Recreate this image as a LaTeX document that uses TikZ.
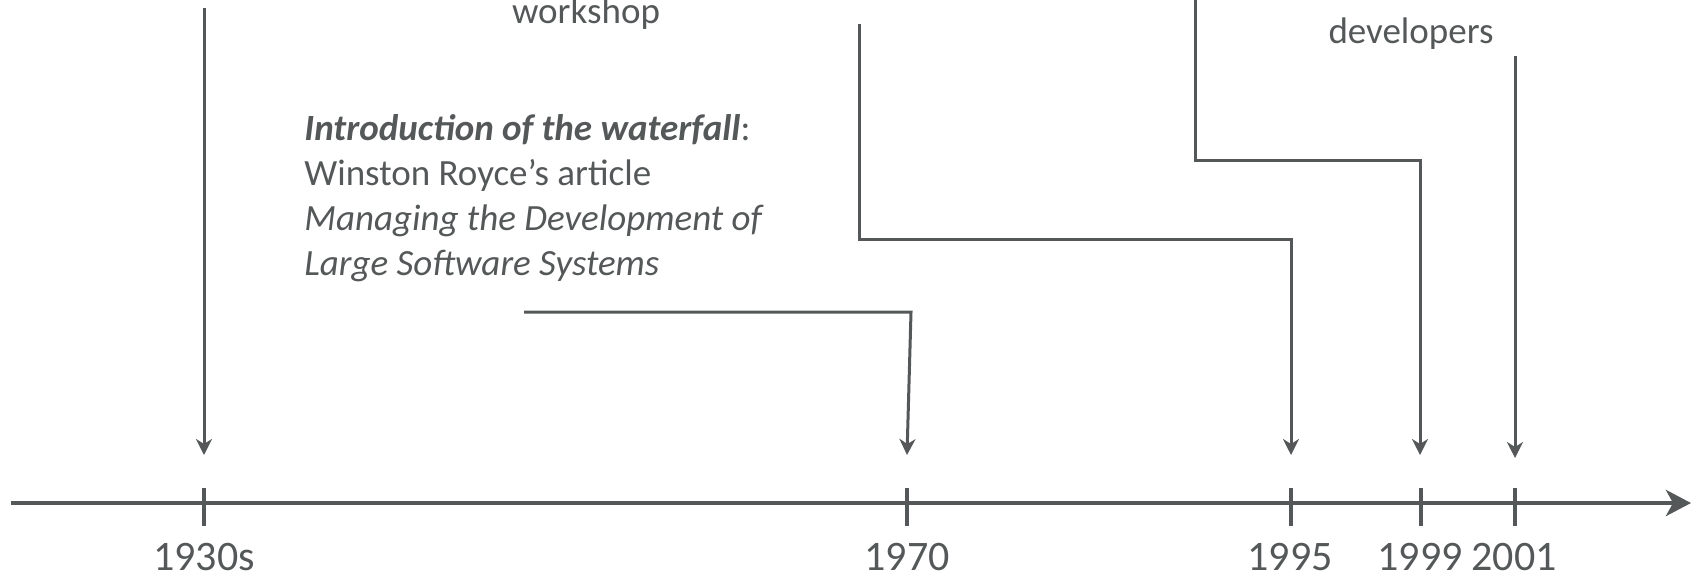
\documentclass[tikz,border=0pt]{standalone}
\usepackage{fontspec}
\setmainfont{Carlito}
\usetikzlibrary{arrows.meta}
\definecolor{ink}{RGB}{84,88,89}
\begin{document}
\begin{tikzpicture}[x=0.5pt,y=-0.5pt,
  conn/.style={draw=ink,line width=1.5pt},
  arr/.style={conn,-{Stealth[length=8pt,width=8pt,inset=2.5pt]}},
  axisline/.style={draw=ink,line width=2.4pt,-{Stealth[length=12.5pt,width=13pt,inset=3.5pt]}},
  tickmark/.style={draw=ink,line width=2.2pt},
  lbl/.style={text=ink,font=\fontsize{18.5}{22}\selectfont,inner sep=0pt},
  year/.style={text=ink,font=\fontsize{21}{25}\selectfont,inner sep=0pt,anchor=base},
]
\useasboundingbox (0,0) rectangle (1696,574);
% axis
\coordinate (ax0) at (11,503);
\coordinate (ax1) at (1691,503);
\draw[axisline] (ax0) -- (ax1);
% ticks
\foreach \n/\x in {t30/204,t70/907,t95/1291,t99/1421,t01/1515}{
  \coordinate (\n) at (\x,503);
  \draw[tickmark] (\x,488) -- (\x,526);
}
% year labels
\node[year] (y30) at (204,570) {1930s};
\node[year] (y70) at (907,570) {1970};
\node[year] (y95) at (1290,570) {1995};
\node[year] (y99) at (1420,570) {1999};
\node[year] (y01) at (1514,570) {2001};
% texts
\node[lbl,anchor=base] (ws) at (586,23) {workshop};
\node[lbl,anchor=base] (dev) at (1411,43) {developers};
\node[lbl,anchor=base west] (wf1) at (304,140) {\textbf{\textit{Introduction of the waterfall}}:};
\node[lbl,anchor=base west] (wf2) at (304,185) {Winston Royce’s article};
\node[lbl,anchor=base west] (wf3) at (304,230) {\textit{Managing the Development of}};
\node[lbl,anchor=base west] (wf4) at (304,275) {\textit{Large Software Systems}};
% connectors
\coordinate (s30) at (204,8);
\coordinate (e30) at (204,455);
\draw[arr] (s30) -- (e30);
\coordinate (w0) at (524,312);
\coordinate (w1) at (911,312);
\coordinate (e70) at (907,455);
\draw[arr] (w0) -- (w1) -- (e70);
\coordinate (s95) at (859,24);
\coordinate (k95a) at (859,239);
\coordinate (k95b) at (1291,239);
\coordinate (e95) at (1291,455);
\draw[arr] (s95) -- (k95a) -- (k95b) -- (e95);
\coordinate (s99) at (1195,0);
\coordinate (k99a) at (1195,160);
\coordinate (k99b) at (1420,160);
\coordinate (e99) at (1420,455);
\draw[arr] (s99) -- (k99a) -- (k99b) -- (e99);
\coordinate (s01) at (1515,56);
\coordinate (e01) at (1515,458);
\draw[arr] (s01) -- (e01);
\end{tikzpicture}
\end{document}
